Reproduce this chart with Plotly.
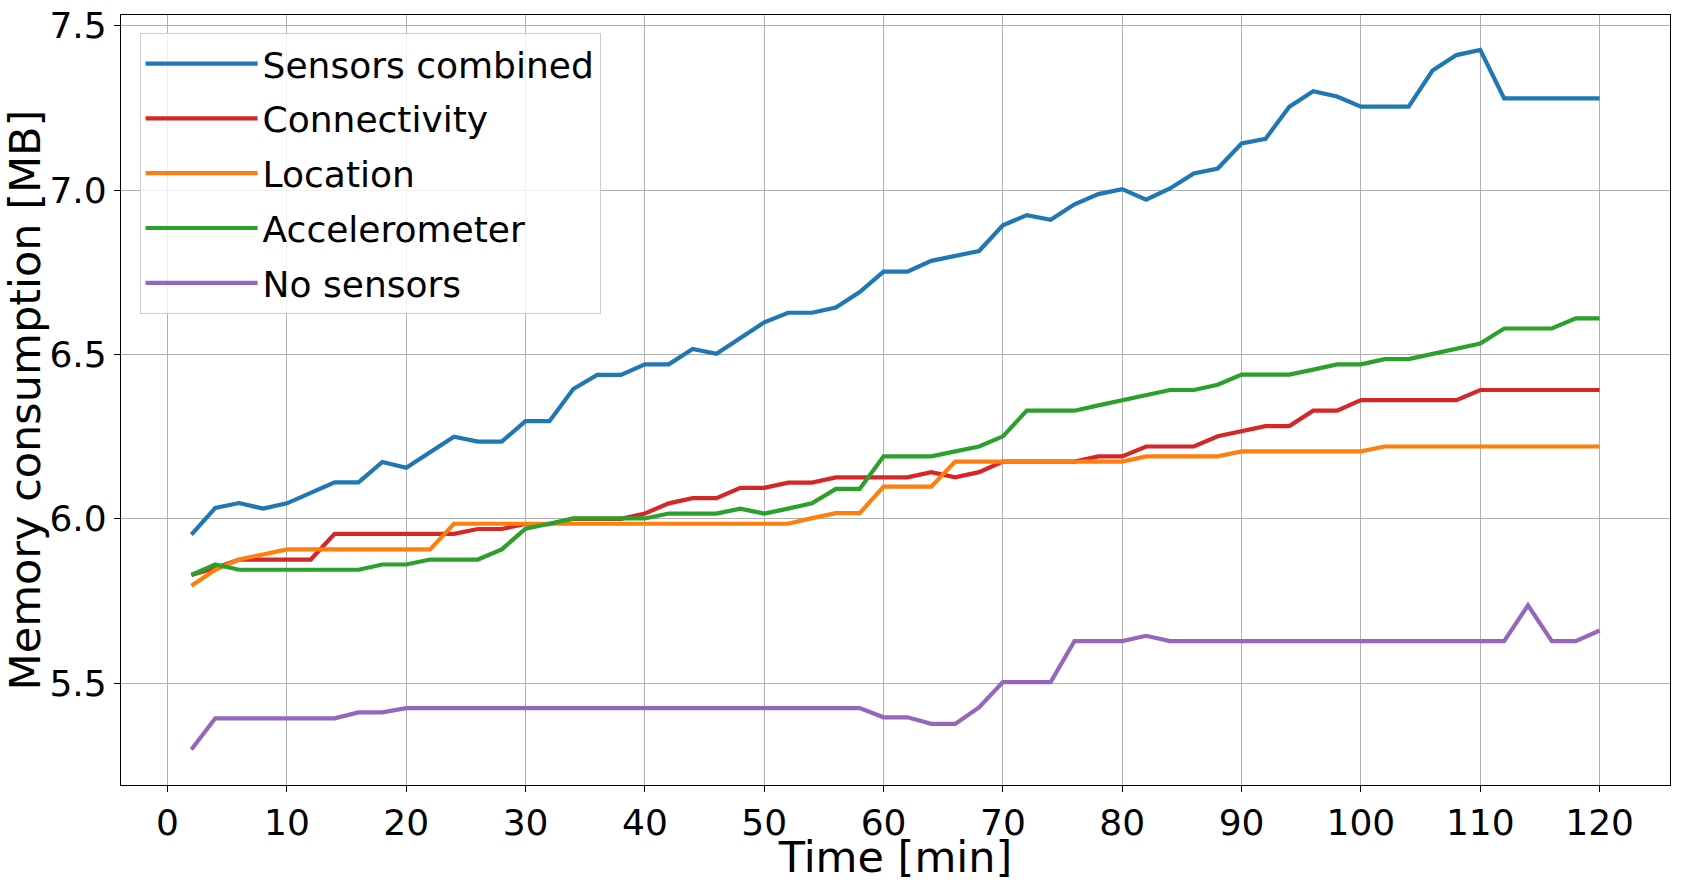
import plotly.graph_objects as go

time_min = [2, 4, 6, 8, 10, 12, 14, 16, 18, 20, 22, 24, 26, 28, 30, 32, 34, 36, 38, 40,
            42, 44, 46, 48, 50, 52, 54, 56, 58, 60, 62, 64, 66, 68, 70, 72, 74, 76, 78, 80,
            82, 84, 86, 88, 90, 92, 94, 96, 98, 100, 102, 104, 106, 108, 110, 112, 114, 116, 118, 120]

sensors_combined = [5.952, 6.033, 6.048, 6.031, 6.047, 6.080, 6.111, 6.111, 6.173, 6.155,
                    6.203, 6.250, 6.235, 6.235, 6.297, 6.297, 6.395, 6.438, 6.438, 6.470,
                    6.470, 6.517, 6.502, 6.551, 6.598, 6.627, 6.627, 6.643, 6.690, 6.752,
                    6.752, 6.785, 6.800, 6.815, 6.893, 6.924, 6.910, 6.957, 6.988, 7.003,
                    6.971, 7.005, 7.051, 7.066, 7.142, 7.156, 7.254, 7.301, 7.285, 7.254,
                    7.254, 7.254, 7.364, 7.411, 7.427, 7.279, 7.279, 7.279, 7.279, 7.279]

connectivity = [5.829, 5.850, 5.876, 5.876, 5.876, 5.876, 5.954, 5.954, 5.954, 5.954,
                5.954, 5.954, 5.969, 5.969, 5.984, 5.984, 6.000, 6.000, 6.000, 6.016,
                6.047, 6.063, 6.063, 6.094, 6.094, 6.110, 6.110, 6.126, 6.126, 6.126,
                6.126, 6.142, 6.126, 6.142, 6.174, 6.174, 6.174, 6.174, 6.190, 6.190,
                6.220, 6.220, 6.220, 6.251, 6.266, 6.282, 6.282, 6.329, 6.329, 6.361,
                6.361, 6.361, 6.361, 6.361, 6.392, 6.392, 6.392, 6.392, 6.392, 6.392]

location = [5.796, 5.845, 5.876, 5.891, 5.907, 5.907, 5.907, 5.907, 5.907, 5.907,
            5.907, 5.985, 5.985, 5.985, 5.985, 5.985, 5.985, 5.985, 5.985, 5.985,
            5.985, 5.985, 5.985, 5.985, 5.985, 5.985, 6.002, 6.017, 6.017, 6.098,
            6.098, 6.098, 6.174, 6.174, 6.174, 6.174, 6.174, 6.174, 6.174, 6.174,
            6.190, 6.190, 6.190, 6.190, 6.205, 6.205, 6.205, 6.205, 6.205, 6.205,
            6.220, 6.220, 6.220, 6.220, 6.220, 6.220, 6.220, 6.220, 6.220, 6.220]

accelerometer = [5.829, 5.861, 5.845, 5.845, 5.845, 5.845, 5.845, 5.845, 5.861, 5.861,
                 5.876, 5.876, 5.876, 5.907, 5.970, 5.985, 6.001, 6.001, 6.001, 6.001,
                 6.016, 6.016, 6.016, 6.031, 6.016, 6.031, 6.047, 6.091, 6.091, 6.190,
                 6.190, 6.190, 6.205, 6.220, 6.251, 6.329, 6.329, 6.329, 6.345, 6.360,
                 6.376, 6.392, 6.392, 6.408, 6.439, 6.439, 6.439, 6.454, 6.470, 6.470,
                 6.486, 6.486, 6.502, 6.517, 6.533, 6.579, 6.579, 6.579, 6.610, 6.610]

no_sensors = [5.298, 5.393, 5.393, 5.393, 5.393, 5.393, 5.393, 5.411, 5.411, 5.424,
              5.424, 5.424, 5.424, 5.424, 5.424, 5.424, 5.424, 5.424, 5.424, 5.424,
              5.424, 5.424, 5.424, 5.424, 5.424, 5.424, 5.424, 5.424, 5.424, 5.396,
              5.396, 5.376, 5.376, 5.426, 5.503, 5.503, 5.503, 5.628, 5.628, 5.628,
              5.644, 5.628, 5.628, 5.628, 5.628, 5.628, 5.628, 5.628, 5.628, 5.628,
              5.628, 5.628, 5.628, 5.628, 5.628, 5.628, 5.737, 5.628, 5.628, 5.660]

series = [("Sensors combined", sensors_combined, "#1f77b4"),
          ("Connectivity", connectivity, "#d62728"),
          ("Location", location, "#ff7f0e"),
          ("Accelerometer", accelerometer, "#2ca02c"),
          ("No sensors", no_sensors, "#9467bd")]

fig = go.Figure()
for name, values, color in series:
    fig.add_trace(go.Scatter(x=time_min, y=values, name=name, mode="lines",
                             legendgroup=name,
                             line=dict(color=color, width=4.2)))

axis_style = dict(showline=True, mirror=True, linecolor="black", linewidth=1.2,
                  ticks="outside", ticklen=6, tickwidth=1.2, tickcolor="black",
                  showgrid=True, gridcolor="#b0b0b0", gridwidth=1.1, zeroline=False,
                  automargin=False, ticklabeloverflow="allow")

fig.update_layout(
    width=1681, height=882,
    paper_bgcolor="white", plot_bgcolor="white",
    font=dict(family="DejaVu Sans", size=36, color="black"),
    margin=dict(l=121, r=11, t=15, b=97),
    xaxis=dict(range=[-3.9, 125.9], dtick=10, tick0=0,
               title=dict(text="Time [min]", standoff=15), **axis_style),
    yaxis=dict(range=[5.19, 7.533], dtick=0.5, tick0=5.5, tickformat=".1f",
               title=dict(text="Memory consumption [MB]", standoff=12), **axis_style),
    legend=dict(x=0.012, y=0.977, xanchor="left", yanchor="top",
                bgcolor="rgba(255,255,255,0.8)", bordercolor="#cccccc", borderwidth=1,
                tracegroupgap=5, itemwidth=112, font=dict(size=36)),
)

# page has a default body margin that would shift the figure
fig.write_html("out.html", config={"displayModeBar": False},
               post_script="document.body.style.margin = '0';")
